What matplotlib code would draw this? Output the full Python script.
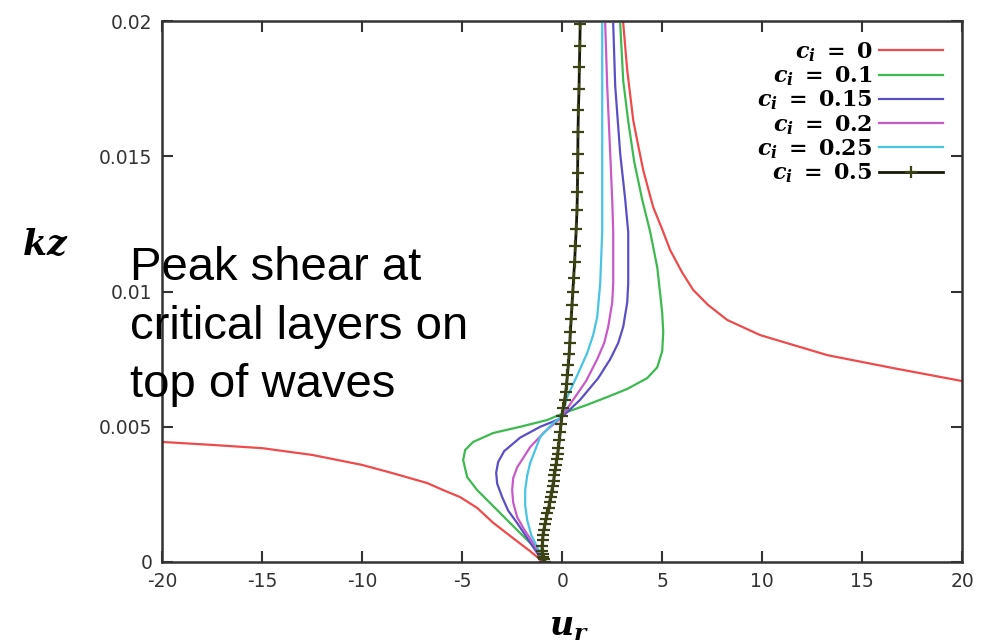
import matplotlib
matplotlib.use("Agg")
import matplotlib.pyplot as plt
import matplotlib.ticker as tick

plt.rcParams["axes.unicode_minus"] = False
plt.rcParams["mathtext.fontset"] = "custom"
plt.rcParams["mathtext.it"] = "DejaVu Serif:italic:bold"
plt.rcParams["mathtext.rm"] = "DejaVu Serif:bold"
plt.rcParams["mathtext.bf"] = "DejaVu Serif:bold"

# values (u_r, kz)
# c_i = 0 : two branches on either side of the critical layer
ur_0_low = [-20.0, -17.5, -15.0, -12.5, -10.0, -8.5, -6.75, -5.95, -5.1, -4.25, -3.45,
            -2.75, -2.1, -1.6, -1.2, -1.0]
kz_0_low = [0.00444, 0.00433, 0.00421, 0.00396, 0.00359, 0.00329, 0.00292, 0.00266,
            0.0024, 0.002, 0.00145, 0.00105, 0.00068, 0.0004, 0.00015, 0.0]
ur_0_up = [20.0, 16.55, 13.25, 9.9, 8.25, 7.3, 6.55, 6.0, 5.4, 5.0, 4.55, 4.3, 4.05,
           3.8, 3.55, 3.25, 3.05]
kz_0_up = [0.00669, 0.00717, 0.00765, 0.00839, 0.00895, 0.0095, 0.01006, 0.0107,
           0.01153, 0.0123, 0.01312, 0.0138, 0.01449, 0.0154, 0.01634, 0.01819, 0.01993]

ur_01 = [-0.85, -1.25, -2.1, -3.25, -4.25, -4.75, -4.95, -4.85, -4.45, -3.45, -2.1,
         -0.75, 0.05, 1.2, 2.25, 3.25, 4.25, 4.75, 5.0, 5.05, 5.0, 4.9, 4.75, 4.4,
         4.0, 3.6, 3.3, 3.05, 2.9]
kz_01 = [0.0, 0.00044, 0.00107, 0.00192, 0.00266, 0.00314, 0.00377, 0.00414, 0.00444,
         0.00477, 0.005, 0.00525, 0.0055, 0.0058, 0.0061, 0.0064, 0.0068, 0.0072,
         0.0078, 0.0085, 0.0092, 0.0099, 0.0109, 0.0122, 0.0134, 0.0148, 0.0163,
         0.0178, 0.0199]

ur_015 = [-0.95, -1.45, -1.85, -2.25, -2.7, -3.0, -3.25, -3.3, -3.2, -2.9, -2.1, -1.1,
          -0.1, 0.9, 1.8, 2.4, 2.8, 3.05, 3.25, 3.3, 3.3, 3.15, 2.9, 2.65, 2.55]
kz_015 = [0.0, 0.00055, 0.001, 0.00144, 0.0019, 0.0024, 0.0029, 0.0033, 0.0037,
          0.0041, 0.0046, 0.005, 0.0053, 0.006, 0.0068, 0.0075, 0.0081, 0.0087,
          0.0096, 0.0103, 0.0122, 0.0134, 0.0151, 0.0176, 0.0199]

ur_02 = [-0.9, -1.45, -1.9, -2.25, -2.45, -2.5, -2.45, -2.25, -1.6, -0.9, -0.1, 0.55,
         1.2, 1.75, 2.1, 2.3, 2.5, 2.55, 2.55, 2.5, 2.4, 2.25, 2.15]
kz_02 = [0.0, 0.0007, 0.0012, 0.00166, 0.0022, 0.00266, 0.0031, 0.0035, 0.00425,
         0.0048, 0.0053, 0.006, 0.0067, 0.0075, 0.0081, 0.0087, 0.0096, 0.0103,
         0.0122, 0.0134, 0.0151, 0.0176, 0.0199]

ur_025 = [-0.85, -1.25, -1.55, -1.75, -1.85, -1.85, -1.75, -1.6, -1.1, -0.5, 0.0, 0.25,
          0.75, 1.25, 1.55, 1.75, 1.9, 2.0, 2.0, 2.0]
kz_025 = [0.0, 0.00055, 0.001, 0.00155, 0.0021, 0.00266, 0.0032, 0.00366, 0.00462,
          0.0051, 0.0054, 0.0061, 0.0069, 0.00773, 0.0084, 0.00906, 0.01031, 0.0122,
          0.0163, 0.0199]

ur_05 = [0.9, 0.88, 0.86, 0.84, 0.81, 0.79, 0.78, 0.77, 0.76, 0.74, 0.7, 0.66, 0.62,
         0.57, 0.53, 0.49, 0.45, 0.41, 0.38, 0.35, 0.31, 0.26, 0.22, 0.18, 0.12, 0.05,
         -0.02, -0.06, -0.1, -0.14, -0.19, -0.23, -0.27, -0.31, -0.35, -0.39, -0.43,
         -0.48, -0.53, -0.58, -0.63, -0.68, -0.74, -0.8, -0.86, -0.92, -0.96, -0.98,
         -1.0, -1.0, -0.98, -0.95, -0.9, -0.85]
kz_05 = [0.0199, 0.0191, 0.0183, 0.0175, 0.0167, 0.0159, 0.0151, 0.0144, 0.0137,
         0.0130, 0.0123, 0.0117, 0.0111, 0.0105, 0.0100, 0.0095, 0.0090, 0.0085,
         0.0081, 0.0077, 0.0073, 0.0069, 0.0066, 0.0063, 0.0060, 0.0057, 0.0054,
         0.0051, 0.0048, 0.0045, 0.0042, 0.0040, 0.0038, 0.0036, 0.0034, 0.0032,
         0.0030, 0.0028, 0.0026, 0.0024, 0.0022, 0.0020, 0.0018, 0.0016, 0.0014,
         0.0012, 0.0010, 0.0008, 0.0006, 0.0004, 0.0003, 0.0002, 0.0001, 0.0]

x_ticks = [-20, -15, -10, -5, 0, 5, 10, 15, 20]
y_ticks = [0, 0.005, 0.01, 0.015, 0.02]
y_tick_labels = ["0", "0.005", "0.01", "0.015", "0.02"]

fig = plt.figure(figsize=(9.82, 6.43), dpi=100)
ax = fig.add_axes([0.165, 0.126, 0.815, 0.841])

ax.plot(ur_0_low, kz_0_low, color="#ef4a4c", lw=1.6, label=r"$c_i\;=\;0$")
ax.plot(ur_0_up, kz_0_up, color="#ef4a4c", lw=1.6)
ax.plot(ur_01, kz_01, color="#3dba4f", lw=1.6, label=r"$c_i\;=\;0.1$")
ax.plot(ur_015, kz_015, color="#5a4fc4", lw=1.6, label=r"$c_i\;=\;0.15$")
ax.plot(ur_02, kz_02, color="#c85ac8", lw=1.6, label=r"$c_i\;=\;0.2$")
ax.plot(ur_025, kz_025, color="#48c4e4", lw=1.6, label=r"$c_i\;=\;0.25$")
ax.plot(ur_05, kz_05, color="#151a08", lw=2.0, marker="+", markersize=9,
        markeredgewidth=1.6, markeredgecolor="#3c4214", label=r"$c_i\;=\;0.5$")

ax.set_xlim(-20, 20)
ax.set_ylim(0, 0.02)
ax.set_xticks(x_ticks)
ax.xaxis.set_major_formatter(tick.FormatStrFormatter("%d"))
ax.set_yticks(y_ticks)
ax.set_yticklabels(y_tick_labels)
ax.tick_params(direction="in", length=8, width=1.5, top=True, right=True,
               labelsize=13.5, colors="#333333", pad=7)
for s in ax.spines.values():
    s.set_linewidth(1.8)
    s.set_color("#333333")

leg = ax.legend(loc="upper right", frameon=False, markerfirst=False, fontsize=16,
                handlelength=2.9, labelspacing=0.03, borderaxespad=0.45,
                handletextpad=0.3)

fig.text(0.046, 0.619, r"$kz$", fontsize=25, ha="center", va="center")
fig.text(0.579, 0.026, r"$u_r$", fontsize=24, ha="center", va="center")

fig.text(0.132, 0.617, "Peak shear at\ncritical layers on\ntop of waves",
         fontsize=34, family="Liberation Sans", ha="left", va="top",
         linespacing=1.42)

fig.savefig("out.png", dpi=100)
